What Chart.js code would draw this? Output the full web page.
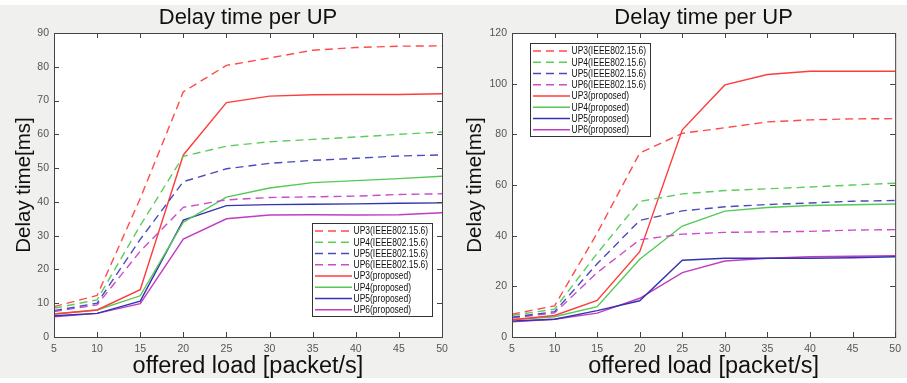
<!DOCTYPE html>
<html>
<head>
<meta charset="utf-8">
<script src="https://cdn.jsdelivr.net/npm/chart.js@4.4.0/dist/chart.umd.min.js"></script>
<style>
  html, body { margin: 0; padding: 0; background: #f0f0ee; }
  #wrap { position: relative; width: 907px; height: 383px; }
  canvas { position: absolute; top: 0; }
</style>
</head>
<body>
<div id="wrap">
  <canvas id="leftChart" width="460" height="383" style="left:0"></canvas>
  <canvas id="rightChart" width="447" height="383" style="left:460px"></canvas>
</div>
<script>
// offered load (packet/s)
const loads = [5, 10, 15, 20, 25, 30, 35, 40, 45, 50];

const seriesNames = [
  'UP3(IEEE802.15.6)', 'UP4(IEEE802.15.6)', 'UP5(IEEE802.15.6)', 'UP6(IEEE802.15.6)',
  'UP3(proposed)', 'UP4(proposed)', 'UP5(proposed)', 'UP6(proposed)'
];

// IEEE 802.15.6 (same in both panels)
const ieeeUP3 = [9.0, 12.3, 41.0, 72.6, 80.4, 82.6, 84.9, 85.7, 86.1, 86.2];
const ieeeUP4 = [8.5, 11.0, 33.0, 53.5, 56.5, 57.8, 58.5, 59.2, 60.0, 60.7];
const ieeeUP5 = [7.8, 10.0, 28.9, 46.0, 49.8, 51.4, 52.3, 52.9, 53.6, 53.9];
const ieeeUP6 = [7.5, 9.5, 25.4, 38.4, 40.6, 41.3, 41.5, 41.7, 42.2, 42.4];

// proposed, left panel
const leftUP3 = [6.8, 8.0, 14.0, 53.9, 69.4, 71.3, 71.7, 71.8, 71.8, 72.0];
const leftUP4 = [6.8, 8.0, 12.2, 34.0, 41.4, 44.1, 45.7, 46.3, 46.9, 47.6];
const leftUP5 = [6.3, 7.0, 10.6, 34.6, 38.9, 39.2, 39.3, 39.4, 39.6, 39.7];
const leftUP6 = [6.0, 7.0, 9.9, 29.0, 35.0, 36.1, 36.2, 36.1, 36.2, 36.8];

// proposed, right panel
const rightUP3 = [6.8, 8.5, 14.4, 33.7, 81.8, 99.5, 103.6, 104.9, 104.9, 104.9];
const rightUP4 = [6.8, 8.0, 12.0, 30.7, 43.8, 49.7, 51.1, 51.9, 52.2, 52.5];
const rightUP5 = [6.3, 7.0, 10.4, 14.3, 30.3, 31.1, 31.1, 31.1, 31.3, 31.7];
const rightUP6 = [6.0, 7.0, 9.4, 15.3, 25.4, 30.0, 31.1, 31.7, 31.9, 32.1];

const dashColors = ['#ff4a4a', '#5ccc5c', '#4b4bbd', '#cc4ccc'];
const solidColors = ['#ff3c3c', '#55c855', '#3434b0', '#c23cc2'];

function makeDatasets(proposed) {
  const all = [ieeeUP3, ieeeUP4, ieeeUP5, ieeeUP6].concat(proposed);
  return all.map((vals, i) => ({
    label: seriesNames[i],
    data: loads.map((x, j) => ({ x: x, y: vals[j] })),
    borderColor: i < 4 ? dashColors[i] : solidColors[i - 4],
    borderWidth: 1.4,
    borderDash: i < 4 ? [8, 5] : [],
    pointRadius: 0,
    tension: 0,
    fill: false
  }));
}

// MATLAB-ish figure: grey background, white axes, box with inward ticks, title and boxed legend
const matlabBox = {
  id: 'matlabBox',
  beforeDraw(chart) {
    const { ctx, chartArea: a, width, height } = chart;
    ctx.save();
    ctx.fillStyle = '#f0f0ee';
    ctx.fillRect(0, 0, width, height);
    ctx.fillStyle = '#fff';
    ctx.fillRect(0, 0, width, 5);
    ctx.fillRect(0, height - 5, width, 5);
    ctx.fillRect(a.left, a.top, a.right - a.left, a.bottom - a.top);
    ctx.restore();
  },
  afterDatasetsDraw(chart, args, opts) {
    const { ctx, chartArea: a, scales } = chart;
    ctx.save();
    ctx.strokeStyle = '#444';
    ctx.lineWidth = 1;
    ctx.strokeRect(a.left + 0.5, a.top + 0.5, a.right - a.left, a.bottom - a.top);
    ctx.beginPath();
    scales.x.ticks.forEach(t => {
      const px = Math.round(scales.x.getPixelForValue(t.value)) + 0.5;
      ctx.moveTo(px, a.bottom); ctx.lineTo(px, a.bottom - 5);
      ctx.moveTo(px, a.top); ctx.lineTo(px, a.top + 5);
    });
    scales.y.ticks.forEach(t => {
      const py = Math.round(scales.y.getPixelForValue(t.value)) + 0.5;
      ctx.moveTo(a.left, py); ctx.lineTo(a.left + 5, py);
      ctx.moveTo(a.right, py); ctx.lineTo(a.right - 5, py);
    });
    ctx.stroke();

    // title
    ctx.fillStyle = '#111';
    ctx.font = '22px "Liberation Sans", Arial, sans-serif';
    ctx.textAlign = 'center';
    ctx.textBaseline = 'middle';
    ctx.fillText('Delay time per UP', (a.left + a.right) / 2, 18);

    // legend
    const w = 120, h = 93;
    const bx = opts.corner === 'br' ? a.right - opts.dx - w : a.left + opts.dx;
    const by = opts.corner === 'br' ? a.bottom - opts.dy - h : a.top + opts.dy;
    ctx.fillStyle = '#fff';
    ctx.fillRect(bx, by, w, h);
    ctx.strokeStyle = '#333';
    ctx.strokeRect(bx + 0.5, by + 0.5, w, h);
    ctx.textAlign = 'left';
    ctx.font = '10px "Liberation Sans", Arial, sans-serif';
    chart.data.datasets.forEach((ds, i) => {
      const ry = by + 8 + i * 11.25;
      ctx.strokeStyle = ds.borderColor;
      ctx.lineWidth = 1.3;
      ctx.setLineDash(ds.borderDash);
      ctx.beginPath();
      ctx.moveTo(bx + 3, ry); ctx.lineTo(bx + 40, ry);
      ctx.stroke();
      ctx.setLineDash([]);
      ctx.fillStyle = '#111';
      ctx.save();
      ctx.translate(bx + 41.5, ry + 0.5);
      ctx.scale(0.85, 1);
      ctx.fillText(ds.label, 0, 0);
      ctx.restore();
    });
    ctx.restore();
  }
};

function makeChart(canvasId, proposed, yMax, yStep, leftW, yTitlePad, padRight, legendOpts) {
  const ctx = document.getElementById(canvasId).getContext('2d');
  return new Chart(ctx, {
    type: 'line',
    data: { datasets: makeDatasets(proposed) },
    plugins: [matlabBox],
    options: {
      responsive: false,
      animation: false,
      layout: { padding: { top: 33, right: padRight, left: 0, bottom: 0 } },
      plugins: {
        legend: { display: false },
        tooltip: { enabled: false },
        matlabBox: legendOpts
      },
      scales: {
        x: {
          type: 'linear',
          min: 5, max: 50,
          grid: { display: false, drawTicks: false },
          border: { display: false },
          ticks: { stepSize: 5, padding: 6, color: '#555', font: { size: 10.5, family: 'Liberation Sans' } },
          title: {
            display: true, text: 'offered load [packet/s]', color: '#111',
            font: { size: 23.5, family: 'Liberation Sans' }, padding: { top: 0, bottom: 2 }
          },
          afterFit: s => { s.height = 46; }
        },
        y: {
          min: 0, max: yMax,
          grid: { display: false, drawTicks: false },
          border: { display: false },
          ticks: { stepSize: yStep, padding: 5, color: '#555', font: { size: 10.5, family: 'Liberation Sans' } },
          title: {
            display: true, text: 'Delay time[ms]', color: '#111',
            font: { size: 20.5, family: 'Liberation Sans' }, padding: { top: yTitlePad, bottom: 0 }
          },
          afterFit: s => { s.width = leftW; }
        }
      }
    }
  });
}

makeChart('leftChart', [leftUP3, leftUP4, leftUP5, leftUP6], 90, 10, 54, 12, 18,
  { corner: 'br', dx: 10, dy: 21 });
makeChart('rightChart', [rightUP3, rightUP4, rightUP5, rightUP6], 120, 20, 52, 3, 9,
  { corner: 'tl', dx: 18, dy: 10 });
</script>
</body>
</html>
